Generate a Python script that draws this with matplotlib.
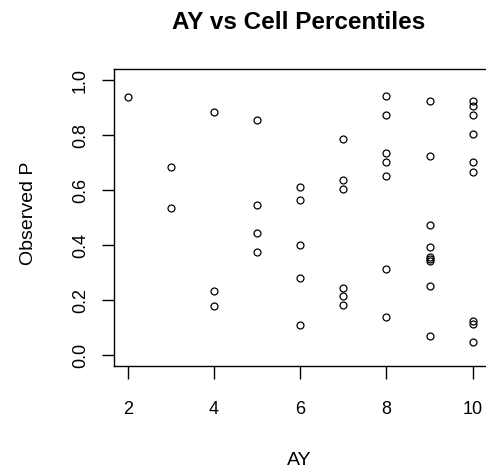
import matplotlib
matplotlib.use("Agg")
import matplotlib.pyplot as plt

plt.rcParams['font.family'] = ['Liberation Sans', 'DejaVu Sans']

# Data (AY, observed percentile)
ay_2 = [0.94]
ay_3 = [0.682, 0.534]
ay_4 = [0.882, 0.232, 0.179]
ay_5 = [0.854, 0.545, 0.442, 0.373]
ay_6 = [0.610, 0.565, 0.400, 0.279, 0.110]
ay_7 = [0.787, 0.635, 0.604, 0.243, 0.215, 0.183]
ay_8 = [0.942, 0.873, 0.736, 0.703, 0.650, 0.313, 0.137]
ay_9 = [0.923, 0.723, 0.472, 0.392, 0.357, 0.350, 0.343, 0.250, 0.070]
ay_10 = [0.923, 0.906, 0.873, 0.805, 0.703, 0.666, 0.123, 0.112, 0.047]

groups = {2: ay_2, 3: ay_3, 4: ay_4, 5: ay_5, 6: ay_6, 7: ay_7,
          8: ay_8, 9: ay_9, 10: ay_10}
xs, ys = [], []
for k, vals in groups.items():
    xs += [k] * len(vals)
    ys += vals

x_ticks = [2, 4, 6, 8, 10]
y_ticks = [0.0, 0.2, 0.4, 0.6, 0.8, 1.0]
y_tick_labels = ["0.0", "0.2", "0.4", "0.6", "0.8", "1.0"]

W, H = 486, 469
fig = plt.figure(figsize=(W / 100, H / 100), dpi=100)
left, right, top, bottom = 113.9, 486.5, 69, 366
ax = fig.add_axes([left / W, 1 - bottom / H, (right - left) / W, (bottom - top) / H])

ax.plot(xs, ys, linestyle='none', marker='o', markersize=5.0,
        markerfacecolor='none', markeredgecolor='black', markeredgewidth=0.9)

ax.set_xlim(1.68, 10.32)
ax.set_ylim(-0.04, 1.04)
ax.set_xticks(x_ticks)
ax.set_xticklabels([str(v) for v in x_ticks])
ax.set_yticks(y_ticks)
ax.set_yticklabels(y_tick_labels, rotation=90, va='center')

for s in ax.spines.values():
    s.set_linewidth(1.0)
    s.set_color('black')

ax.tick_params(axis='both', direction='out', length=9, width=1.0, labelsize=13, colors='black')
ax.tick_params(axis='x', pad=16)
ax.tick_params(axis='y', pad=9)

fig.text(299 / W, 1 - 29.3 / H, "AY vs Cell Percentiles", ha='center', va='baseline',
         fontsize=17.5, fontweight='bold')
fig.text(299 / W, 1 - 465 / H, "AY", ha='center', va='baseline', fontsize=14)
fig.text(28.5 / W, 1 - 213 / H, "Observed P", ha='center', va='center', rotation=90, fontsize=14)

fig.savefig("out.png", dpi=100)
